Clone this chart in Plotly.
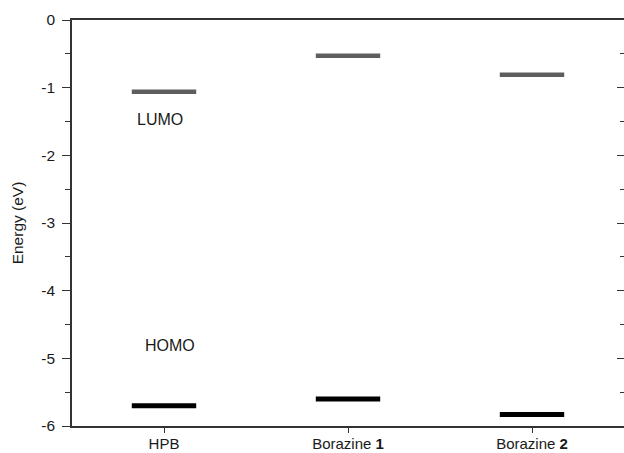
import plotly.graph_objects as go

categories = ["HPB", "Borazine <b>1</b>", "Borazine <b>2</b>"]
lumo = [-1.06, -0.53, -0.81]
homo = [-5.70, -5.60, -5.83]
y_ticks = [0, -1, -2, -3, -4, -5, -6]

half_w = 0.175
pos = list(range(1, len(categories) + 1))

def segs(vals):
    xs, ys = [], []
    for p, v in zip(pos, vals):
        xs += [p - half_w, p + half_w, None]
        ys += [v, v, None]
    return xs, ys

fig = go.Figure()
lx, ly = segs(lumo)
hx, hy = segs(homo)
fig.add_trace(go.Scatter(x=lx, y=ly, mode="lines", line=dict(color="#5e5e5e", width=4.5),
                         showlegend=False, hoverinfo="skip"))
fig.add_trace(go.Scatter(x=hx, y=hy, mode="lines", line=dict(color="#000000", width=5),
                         showlegend=False, hoverinfo="skip"))
# invisible trace to activate right-side tick axis
fig.add_trace(go.Scatter(x=[1], y=[-3], yaxis="y2", mode="markers", marker=dict(opacity=0),
                         showlegend=False, hoverinfo="skip"))

lab_font = dict(family="Liberation Sans, Arial", size=16, color="#1a1a1a")
fig.add_annotation(x=0.98, y=-1.47, text="LUMO", showarrow=False, font=lab_font)
fig.add_annotation(x=1.03, y=-4.81, text="HOMO", showarrow=False, font=lab_font)

axis_font = dict(family="Liberation Sans, Arial", size=15.5, color="#1a1a1a")
x_font = dict(family="Liberation Sans, Arial", size=15, color="#1a1a1a")

fig.update_layout(
    width=624, height=453,
    margin=dict(l=72, r=0, t=20, b=27, pad=0),
    plot_bgcolor="white", paper_bgcolor="white",
    font=axis_font,
    xaxis=dict(range=[0.5, 3.5], tickvals=pos, ticktext=categories, automargin=False,
               showline=True, linecolor="#333", linewidth=1.5, mirror=True,
               ticks="outside", ticklen=5, tickwidth=1, tickcolor="#333",
               ticklabelstandoff=-2,
               showgrid=False, zeroline=False, tickfont=x_font),
    yaxis=dict(range=[-6, 0], tickvals=y_ticks, ticktext=[str(v) for v in y_ticks],
               automargin=False,
               showline=True, linecolor="#333", linewidth=1.5,
               ticks="outside", ticklen=8, tickwidth=1, tickcolor="#333",
               ticklabelstandoff=4,
               minor=dict(ticks="outside", ticklen=5, dtick=0.5, tickcolor="#333", tickwidth=1),
               showgrid=False, zeroline=False, tickfont=axis_font,
               title=dict(text="Energy (eV)", font=axis_font, standoff=14)),
    yaxis2=dict(range=[-6, 0], overlaying="y", side="right", showline=False,
                automargin=False,
                tickvals=y_ticks, showticklabels=False,
                ticks="inside", ticklen=7, tickwidth=1, tickcolor="#333",
                minor=dict(ticks="inside", ticklen=4, dtick=0.5, tickcolor="#333", tickwidth=1),
                showgrid=False, zeroline=False),
)

fig.write_html("out.html")
